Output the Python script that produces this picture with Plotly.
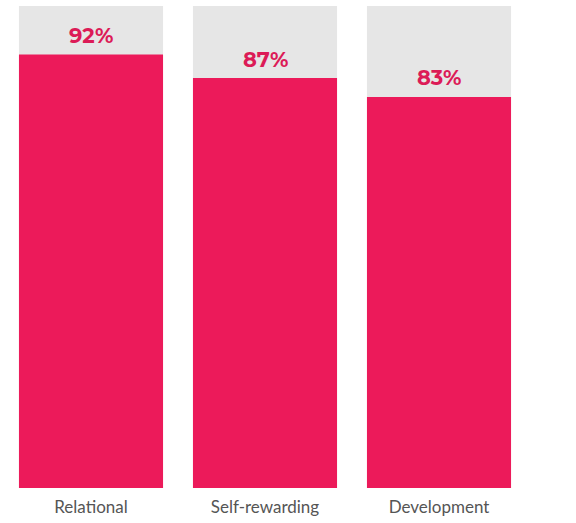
import plotly.graph_objects as go

categories = ["Relational", "Self-rewarding", "Development"]
values = [92, 87, 83]
track = [102.3, 102.3, 102.3]
labels = ["92%", "87%", "83%"]

pink = "#EC1A5A"
grey = "#E6E6E6"

fig = go.Figure()
fig.add_trace(go.Bar(x=categories, y=track, marker=dict(color=grey, line=dict(width=0)),
                     hoverinfo="skip", showlegend=False))
fig.add_trace(go.Bar(x=categories, y=values, marker=dict(color=pink, line=dict(width=0)),
                     showlegend=False))

for c, v, t in zip(categories, values, labels):
    fig.add_annotation(x=c, y=v, text=t, showarrow=False, yshift=19,
                       yanchor="middle",
                       font=dict(family="Montserrat, Open Sans, sans-serif", size=21, color="#DC1B57", weight="bold"))

fig.update_layout(
    width=576, height=523,
    margin=dict(l=4, r=50, t=6, b=35),
    barmode="overlay", bargap=0.172,
    plot_bgcolor="white", paper_bgcolor="white",
    xaxis=dict(showgrid=False, zeroline=False, showline=False, ticks="",
               tickfont=dict(family="Lato, sans-serif", size=17, color="#555555"),
               ticklabelstandoff=7,
               range=[-0.5, 2.5]),
    yaxis=dict(visible=False, range=[0, 102.3]),
)
fig.write_html("out.html", config={"displayModeBar": False},
               post_script="document.body.style.margin='0';")
